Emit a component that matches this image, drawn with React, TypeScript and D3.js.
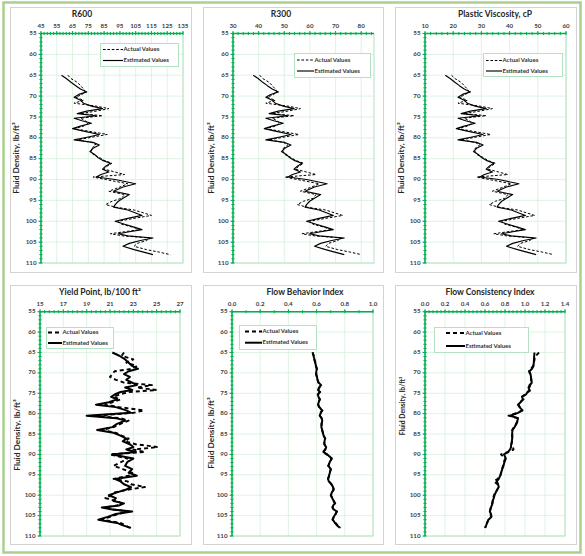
import React from 'react';
import * as d3 from 'd3';

// Fluid density, lb/ft3 (shared by all panels)
const DENSITY = [65.0, 65.8, 66.7, 67.5, 68.3, 69.0, 69.6, 70.3, 71.0, 71.7, 72.4, 73.0, 73.6, 74.2, 74.7, 75.3, 75.9, 76.5, 77.2, 77.8, 78.4, 79.2, 79.8, 80.5, 81.1, 81.7, 82.5, 83.3, 84.0, 84.7, 85.4, 86.1, 86.8, 87.5, 88.2, 88.8, 89.4, 90.0, 91.0, 91.8, 92.8, 93.6, 94.5, 95.2, 96.0, 96.6, 97.3, 98.0, 98.6, 99.3, 100.0, 100.7, 101.4, 102.0, 102.5, 103.0, 103.5, 104.0, 104.6, 105.3, 106.0, 106.8, 107.4, 108.0];

const R600_EST = [58, 61, 64, 67, 70, 74, 69, 66, 70, 72, 77, 84, 74, 68, 80, 66, 71, 77, 70, 65, 72, 82, 75, 66, 78, 82, 78, 76, 79, 81, 84, 89, 86, 84, 88, 83, 80, 92, 105, 97, 91, 101, 97, 94, 92, 91, 100, 105, 109, 100, 92, 98, 104, 109, 101, 94, 100, 116, 108, 101, 97, 104, 110, 116];
const R600_ACT = [62, 64, 68, 70, 72, 73, 71, 67, 72, 66, 80, 88, 80, 70, 84, 70, 73, 75, 72, 66, 75, 87, 78, 68, 77, 80, 77, 77, 78, 82, 85, 90, 87, 85, 92, 98, 78, 86, 100, 95, 88, 98, 96, 90, 86, 92, 104, 110, 115, 104, 94, 96, 103, 108, 98, 89, 97, 114, 112, 106, 104, 112, 120, 127];

const R300_EST = [37.9, 39.8, 41.6, 43.4, 45.3, 47.7, 44.7, 42.8, 45.3, 46.5, 49.6, 53.8, 47.7, 44.1, 51.4, 42.8, 45.9, 49.6, 45.3, 42.2, 46.5, 52.6, 48.3, 42.8, 50.2, 52.6, 50.2, 48.9, 50.8, 52.0, 53.8, 56.9, 55.1, 53.8, 56.3, 53.2, 51.4, 58.7, 66.7, 61.8, 58.1, 64.2, 61.8, 59.9, 58.7, 58.1, 63.6, 66.7, 69.1, 63.6, 58.7, 62.4, 66.1, 69.1, 64.2, 59.9, 63.6, 73.4, 68.5, 64.2, 61.8, 66.1, 69.7, 73.4];
const R300_ACT = [40.4, 41.6, 44.1, 45.3, 46.5, 47.1, 45.9, 43.4, 46.5, 42.8, 51.4, 56.3, 51.4, 45.3, 53.8, 45.3, 47.1, 48.3, 46.5, 42.8, 48.3, 55.7, 50.2, 44.1, 49.6, 51.4, 49.6, 49.6, 50.2, 52.6, 54.4, 57.5, 55.7, 54.4, 58.7, 62.4, 50.2, 55.1, 63.6, 60.6, 56.3, 62.4, 61.2, 57.5, 55.1, 58.7, 66.1, 69.7, 72.8, 66.1, 59.9, 61.2, 65.4, 68.5, 62.4, 56.9, 61.8, 72.2, 70.9, 67.3, 66.1, 70.9, 75.8, 80.1];

const PV_EST = [17.2, 18.9, 20.6, 22.2, 23.9, 26.1, 23.3, 21.7, 23.9, 25.0, 27.8, 31.7, 26.1, 22.8, 29.4, 21.7, 24.4, 27.8, 23.9, 21.1, 25.0, 30.6, 26.7, 21.7, 28.3, 30.6, 28.3, 27.2, 28.9, 30.0, 31.7, 34.4, 32.8, 31.7, 33.9, 31.1, 29.4, 36.1, 43.3, 38.9, 35.6, 41.1, 38.9, 37.2, 36.1, 35.6, 40.6, 43.3, 45.6, 40.6, 36.1, 39.4, 42.8, 45.6, 41.1, 37.2, 40.6, 49.4, 45.0, 41.1, 38.9, 42.8, 46.1, 49.4];
const PV_ACT = [19.4, 20.6, 22.8, 23.9, 25.0, 25.6, 24.4, 22.2, 25.0, 21.7, 29.4, 33.9, 29.4, 23.9, 31.7, 23.9, 25.6, 26.7, 25.0, 21.7, 26.7, 33.3, 28.3, 22.8, 27.8, 29.4, 27.8, 27.8, 28.3, 30.6, 32.2, 35.0, 33.3, 32.2, 36.1, 39.4, 28.3, 32.8, 40.6, 37.8, 33.9, 39.4, 38.3, 35.0, 32.8, 36.1, 42.8, 46.1, 48.9, 42.8, 37.2, 38.3, 42.2, 45.0, 39.4, 34.4, 38.9, 48.3, 47.2, 43.9, 42.8, 47.2, 51.7, 55.6];

const YP_EST = [21.2, 21.8, 22.3, 22.6, 22.9, 23.4, 22.6, 22.2, 22.7, 22.4, 22.9, 23.3, 22.3, 22.9, 21.9, 21.4, 21.1, 21.6, 20.9, 19.8, 21.5, 22.4, 22.8, 19.0, 21.5, 22.3, 21.6, 21.2, 19.9, 21.3, 21.9, 22.4, 22.1, 22.7, 23.0, 22.4, 23.2, 21.2, 23.0, 22.5, 22.3, 22.9, 22.6, 23.3, 21.4, 21.9, 22.2, 22.8, 22.4, 21.6, 20.9, 21.5, 21.3, 22.2, 21.8, 20.3, 21.2, 22.9, 21.5, 20.8, 20.0, 21.6, 22.1, 22.8];
const YP_ACT = [22.2, 22.0, 23.0, 22.4, 23.3, 22.9, 21.4, 21.2, 21.0, 21.5, 22.2, 24.6, 23.3, 25.0, 22.6, 21.8, 21.3, 21.9, 21.2, 20.6, 21.8, 23.9, 23.0, 19.6, 21.9, 22.6, 21.9, 21.3, 20.3, 21.5, 22.0, 22.6, 22.3, 23.2, 25.1, 23.0, 24.0, 21.0, 22.5, 22.0, 21.3, 22.1, 22.9, 22.6, 21.3, 22.5, 22.8, 24.0, 22.6, 21.4, 21.1, 20.6, 21.5, 22.0, 21.6, 20.6, 21.3, 22.6, 21.7, 21.0, 20.3, 21.9, 22.3, 22.7];

const N_EST = [0.573, 0.578, 0.585, 0.590, 0.596, 0.603, 0.598, 0.596, 0.603, 0.606, 0.615, 0.632, 0.617, 0.610, 0.625, 0.608, 0.614, 0.622, 0.615, 0.610, 0.620, 0.638, 0.630, 0.622, 0.636, 0.640, 0.636, 0.634, 0.640, 0.644, 0.650, 0.660, 0.656, 0.654, 0.668, 0.662, 0.648, 0.676, 0.708, 0.694, 0.684, 0.700, 0.694, 0.688, 0.682, 0.686, 0.706, 0.716, 0.722, 0.708, 0.702, 0.710, 0.722, 0.730, 0.718, 0.712, 0.722, 0.745, 0.734, 0.722, 0.716, 0.730, 0.745, 0.765];
const N_ACT = [0.570, 0.580, 0.583, 0.592, 0.594, 0.600, 0.600, 0.598, 0.601, 0.608, 0.612, 0.628, 0.620, 0.612, 0.622, 0.610, 0.612, 0.624, 0.613, 0.612, 0.618, 0.642, 0.628, 0.624, 0.634, 0.642, 0.634, 0.636, 0.638, 0.646, 0.648, 0.662, 0.654, 0.656, 0.670, 0.660, 0.644, 0.672, 0.706, 0.696, 0.682, 0.702, 0.692, 0.690, 0.680, 0.688, 0.704, 0.718, 0.720, 0.710, 0.700, 0.712, 0.720, 0.732, 0.716, 0.714, 0.720, 0.742, 0.736, 0.720, 0.712, 0.734, 0.750, 0.770];

const K_EST = [1.095, 1.092, 1.090, 1.088, 1.085, 1.070, 1.045, 1.055, 1.060, 1.062, 1.068, 1.050, 1.035, 1.045, 1.025, 1.010, 0.970, 0.980, 0.955, 0.930, 0.945, 0.975, 0.930, 0.850, 0.930, 0.925, 0.915, 0.895, 0.875, 0.872, 0.873, 0.872, 0.868, 0.862, 0.860, 0.850, 0.830, 0.790, 0.808, 0.795, 0.785, 0.772, 0.762, 0.752, 0.738, 0.718, 0.730, 0.738, 0.722, 0.708, 0.695, 0.688, 0.676, 0.675, 0.668, 0.660, 0.655, 0.648, 0.660, 0.665, 0.635, 0.620, 0.612, 0.602];
const K_ACT = [1.140, 1.110, 1.095, 1.090, 1.080, 1.060, 1.040, 1.050, 1.058, 1.064, 1.060, 1.045, 1.050, 1.060, 1.030, 1.000, 0.965, 0.985, 0.950, 0.935, 0.950, 0.970, 0.925, 0.835, 0.925, 0.930, 0.910, 0.890, 0.872, 0.875, 0.870, 0.875, 0.870, 0.866, 0.880, 0.885, 0.835, 0.760, 0.800, 0.790, 0.780, 0.770, 0.760, 0.755, 0.725, 0.690, 0.725, 0.735, 0.725, 0.705, 0.690, 0.682, 0.678, 0.672, 0.665, 0.658, 0.652, 0.650, 0.656, 0.660, 0.632, 0.622, 0.610, 0.600];

const Y_TICKS = [55, 60, 65, 70, 75, 80, 85, 90, 95, 100, 105, 110];
const R600_TICKS = [45, 55, 65, 75, 85, 95, 105, 115, 125, 135];
const R300_TICKS = [30, 40, 50, 60, 70, 80];
const PV_TICKS = [10, 20, 30, 40, 50, 60];
const YP_TICKS = [15, 17, 19, 21, 23, 25, 27];
const N_TICKS = [0.0, 0.2, 0.4, 0.6, 0.8, 1.0];
const K_TICKS = [0.0, 0.2, 0.4, 0.6, 0.8, 1.0, 1.2, 1.4];

const TITLES = ['R600', 'R300', 'Plastic Viscosity, cP', 'Yield Point, lb/100 ft\u00B2', 'Flow Behavior Index', 'Flow Consistency Index'];
const Y_TITLE = 'Fluid Density, lb/ft\u00B3';
const LEGEND = ['Actual Values', 'Estimated Values'];

type Panel = {
  title: string;
  est: number[];
  act: number[];
  domain: [number, number];
  ticks: number[];
  minor: number;
  fmt: (v: number) => string;
  box: [number, number, number, number];
  plot: [number, number, number, number];
  titleX: number;
  titleY: number;
  tickY: number;
  yt: [number, number, number];
  legend: { x: number; y: number; w: number; h: number; ys: [number, number]; sx: [number, number] };
  heavy: boolean;
};

const f0 = (v: number) => String(v);
const f1 = d3.format('.1f');

const PANELS: Panel[] = [
  { title: TITLES[0], est: R600_EST, act: R600_ACT, domain: [45, 135], ticks: R600_TICKS, minor: 2, fmt: f0,
    box: [10.5, 7.5, 181, 265], plot: [41, 33.5, 183, 263], titleX: 82, titleY: 15, tickY: 26.5, yt: [17, 158, 8.3],
    legend: { x: 100.5, y: 43.5, w: 78, h: 23, ys: [49.5, 60.5], sx: [103, 123] }, heavy: false },
  { title: TITLES[1], est: R300_EST, act: R300_ACT, domain: [30, 85], ticks: R300_TICKS, minor: 2, fmt: f0,
    box: [203.5, 7.5, 180, 265], plot: [233, 33.5, 374, 263], titleX: 281, titleY: 15, tickY: 26.5, yt: [212, 158, 8.3],
    legend: { x: 294.5, y: 53.5, w: 76, h: 24, ys: [60, 71], sx: [297, 314] }, heavy: false },
  { title: TITLES[2], est: PV_EST, act: PV_ACT, domain: [10, 60], ticks: PV_TICKS, minor: 2, fmt: f0,
    box: [395.5, 7.5, 181, 265], plot: [425, 33.5, 566, 263], titleX: 495, titleY: 15, tickY: 26.5, yt: [402, 158, 8.3],
    legend: { x: 483.5, y: 53.5, w: 79, h: 23, ys: [60.5, 71], sx: [486, 502] }, heavy: false },
  { title: TITLES[3], est: YP_EST, act: YP_ACT, domain: [15, 27], ticks: YP_TICKS, minor: 0.4, fmt: f0,
    box: [10.5, 285.5, 181, 259], plot: [40, 311.7, 180, 536], titleX: 100, titleY: 293, tickY: 304.5, yt: [18, 435, 8.3],
    legend: { x: 46.5, y: 327.5, w: 67, h: 21, ys: [332.5, 343], sx: [48, 62] }, heavy: true },
  { title: TITLES[4], est: N_EST, act: N_ACT, domain: [0, 1], ticks: N_TICKS, minor: 0.1, fmt: f1,
    box: [203.5, 285.5, 180, 259], plot: [232, 311.7, 373, 536], titleX: 305, titleY: 293, tickY: 304.5, yt: [212, 433, 8.3],
    legend: { x: 239.5, y: 325.5, w: 77, h: 24, ys: [331.5, 342.7], sx: [245, 262] }, heavy: true },
  { title: TITLES[5], est: K_EST, act: K_ACT, domain: [0, 1.4], ticks: K_TICKS, minor: 0.04, fmt: f1,
    box: [395.5, 285.5, 181, 259], plot: [425, 311.7, 565, 536], titleX: 490, titleY: 293, tickY: 304.5, yt: [403, 406, 6.8],
    legend: { x: 434.5, y: 327.5, w: 94, h: 25, ys: [333, 346], sx: [446, 465] }, heavy: true },
];

const AXIS = '#00b050';
const GRID = '#d5f0dc';
const BORDER = '#b2e2c0';
const FONT = "Lato, 'Open Sans', 'DejaVu Sans', sans-serif";

function PanelView({ p }: { p: Panel }) {
  const [x0, y0, x1, y1] = p.plot;
  const x = d3.scaleLinear().domain(p.domain).range([x0, x1]);
  const y = d3.scaleLinear().domain([55, 110]).range([y0, y1]);
  const line = d3.line<number>().x((v) => x(v)).y((_, i) => y(DENSITY[i]));
  const eps = 1e-9;
  const xMinor = d3.range(p.domain[0], p.domain[1] + eps, p.minor);
  const yMinor = d3.range(55, 110 + eps, 1);
  const estW = p.heavy ? 2 : 1.15;
  const actW = p.heavy ? 1.9 : 1;
  const dash = p.heavy ? '4,3' : '2.6,1.8';
  const L = p.legend;
  return (
    <g>
      <rect x={p.box[0]} y={p.box[1]} width={p.box[2]} height={p.box[3]} fill="#fff" stroke="#d3d3d3" strokeWidth={1} />
      {p.ticks.map((t) => (
        <line key={'gx' + t} x1={x(t)} x2={x(t)} y1={y0} y2={y1} stroke={GRID} strokeWidth={0.8} />
      ))}
      {Y_TICKS.map((t) => (
        <line key={'gy' + t} x1={x0} x2={x1} y1={y(t)} y2={y(t)} stroke={GRID} strokeWidth={0.8} />
      ))}
      <rect x={x0} y={y0} width={x1 - x0} height={y1 - y0} fill="none" stroke={BORDER} strokeWidth={1} />
      <path d={line(p.act) || ''} fill="none" stroke="#000" strokeWidth={actW} strokeDasharray={dash} strokeLinejoin="round" />
      <path d={line(p.est) || ''} fill="none" stroke="#000" strokeWidth={estW} strokeLinejoin="round" />
      {/* axes */}
      <line x1={x0} x2={x1} y1={y0} y2={y0} stroke={AXIS} strokeWidth={1.5} />
      <line x1={x0} x2={x0} y1={y0} y2={y1} stroke={AXIS} strokeWidth={1.5} />
      {xMinor.map((t, i) => (
        <line key={'mx' + i} x1={x(t)} x2={x(t)} y1={y0 - 1.6} y2={y0 + 1.6} stroke={AXIS} strokeWidth={1} />
      ))}
      {yMinor.map((t, i) => (
        <line key={'my' + i} x1={x0 - 1.6} x2={x0 + 1.6} y1={y(t)} y2={y(t)} stroke={AXIS} strokeWidth={1} />
      ))}
      {p.ticks.map((t) => (
        <line key={'tx' + t} x1={x(t)} x2={x(t)} y1={y0 - 2.5} y2={y0} stroke={AXIS} strokeWidth={1} />
      ))}
      {Y_TICKS.map((t) => (
        <line key={'ty' + t} x1={x0 - 2.5} x2={x0} y1={y(t)} y2={y(t)} stroke={AXIS} strokeWidth={1} />
      ))}
      {p.ticks.map((t) => (
        <text key={'lx' + t} x={x(t)} y={p.tickY} textAnchor="middle" dominantBaseline="middle" fontSize={6.2} fontWeight="bold" fill="#404040">
          {p.fmt(t)}
        </text>
      ))}
      {Y_TICKS.map((t) => (
        <text key={'ly' + t} x={x0 - 4.5} y={y(t)} textAnchor="end" dominantBaseline="middle" fontSize={6.2} fontWeight="bold" fill="#404040">
          {t}
        </text>
      ))}
      <text x={p.titleX} y={p.titleY} textAnchor="middle" dominantBaseline="middle" fontSize={8.5} fontWeight="bold" fill="#262626">
        {p.title}
      </text>
      <text transform={`translate(${p.yt[0]},${p.yt[1]}) rotate(-90)`} textAnchor="middle" dominantBaseline="middle" fontSize={p.yt[2]} fontWeight="bold" fill="#262626">
        {Y_TITLE}
      </text>
      {/* legend */}
      <rect x={L.x} y={L.y} width={L.w} height={L.h} fill="#fff" stroke={BORDER} strokeWidth={1} />
      <line x1={L.sx[0]} x2={L.sx[1]} y1={L.ys[0]} y2={L.ys[0]} stroke="#000" strokeWidth={actW} strokeDasharray={dash} />
      <line x1={L.sx[0]} x2={L.sx[1]} y1={L.ys[1]} y2={L.ys[1]} stroke="#000" strokeWidth={estW} />
      <text x={L.sx[1] + 0.5} y={L.ys[0]} dominantBaseline="middle" fontSize={6} fontWeight="bold" fill="#333">{LEGEND[0]}</text>
      <text x={L.sx[1] + 0.5} y={L.ys[1]} dominantBaseline="middle" fontSize={6} fontWeight="bold" fill="#333">{LEGEND[1]}</text>
    </g>
  );
}

export default function App() {
  return (
    <svg width={585} height={556} viewBox="0 0 585 556" style={{ position: 'absolute', left: 0, top: 0, fontFamily: FONT }}>
      <rect x={0} y={0} width={585} height={556} fill="#fff" />
      <rect x={3.5} y={2.5} width={577} height={550} fill="none" stroke="#a9d08e" strokeWidth={2.5} />
      {PANELS.map((p, i) => (
        <PanelView key={i} p={p} />
      ))}
    </svg>
  );
}
